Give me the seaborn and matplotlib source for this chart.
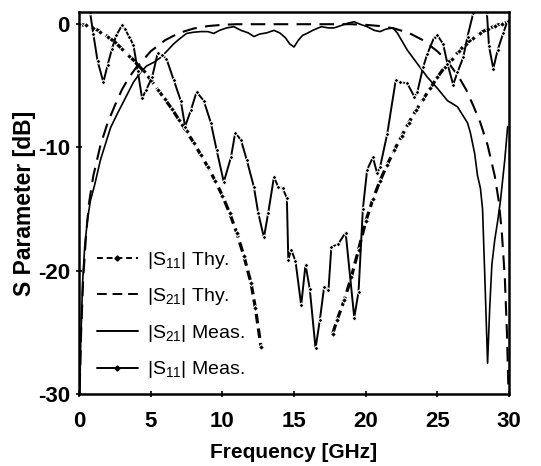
import matplotlib
matplotlib.use("Agg")
import matplotlib.pyplot as plt
import seaborn as sns
import pandas as pd
from matplotlib.lines import Line2D

# |S11| theory (two branches)
s11_thy_f_lo = [0, 0.5, 1, 1.5, 2, 2.5, 3, 3.5, 4, 4.5, 5, 5.5, 6, 6.5, 7, 7.5,
                8, 8.5, 9, 9.5, 10, 10.5, 11, 11.5, 12, 12.3, 12.7]
s11_thy_db_lo = [0, -0.1, -0.3, -0.6, -1.0, -1.45, -2.0, -2.55, -3.15, -3.8, -4.5,
                 -5.3, -6.1, -6.9, -7.8, -8.7, -9.6, -10.6, -11.6, -12.7, -13.9,
                 -15.3, -16.9, -18.8, -21.0, -23.0, -26.2]
s11_thy_f_hi = [17.7, 18.0, 18.5, 19.0, 19.5, 20.0, 20.5, 21.0, 21.5, 22.0, 22.5,
                23.0, 23.5, 24.0, 24.5, 25.0, 25.5, 26.0, 26.5, 27.0, 27.5, 28.0,
                28.5, 29.0, 29.5, 30.0]
s11_thy_db_hi = [-25.1, -24.0, -22.4, -20.5, -18.3, -16.0, -14.2, -12.7, -11.4,
                 -10.2, -9.1, -8.0, -7.0, -6.1, -5.2, -4.3, -3.5, -2.8, -2.2, -1.6,
                 -1.1, -0.7, -0.4, -0.15, 0.05, 0.2]

# |S21| theory
s21_thy_f = [0.05, 0.15, 0.3, 0.5, 0.7, 1.0, 1.5, 2.0, 2.5, 3.0, 3.5, 4.0, 4.4, 5.0,
             6.0, 7.0, 8.0, 9.0, 10.0, 11.0, 19.0, 20.0, 21.0, 22.0, 23.0, 24.0,
             25.0, 25.7, 26.5, 27.0, 27.5, 28.0, 28.5, 29.0, 29.3, 29.5, 29.7,
             29.85, 29.95]
s21_thy_db = [-29.5, -25, -20.5, -17, -14.5, -12.3, -9.8, -8.0, -6.6, -5.3, -4.3,
              -3.5, -3.0, -2.2, -1.3, -0.7, -0.35, -0.15, -0.05, 0, 0, -0.05, -0.15,
              -0.35, -0.7, -1.3, -2.2, -3.0, -4.3, -5.3, -6.6, -8.0, -9.8, -12.3,
              -14.5, -17, -20.5, -25, -29.5]

# |S21| measured
s21_meas_f = [0.05, 0.12, 0.25, 0.4, 0.6, 0.8, 1.1, 1.5, 2.2, 2.7, 3.1, 3.8, 4.3,
              4.7, 5.2, 5.7, 6.2, 6.6, 7.0, 7.5, 8.0, 8.5, 9.0, 9.4, 9.8, 10.3,
              10.8, 11.3, 11.8, 12.2, 12.6, 13.1, 13.6, 14.0, 14.4, 14.7, 15.0,
              15.3, 15.6, 15.9, 16.3, 16.9, 17.4, 17.8, 18.3, 18.8, 19.2, 19.6,
              20.1, 20.6, 21.0, 21.4, 21.9, 22.2, 22.9, 23.6, 24.3, 25.0, 25.7,
              26.4, 27.1, 27.3, 27.6, 27.8, 28.0, 28.15, 28.35, 28.5, 28.65, 28.8,
              29.0, 29.2, 29.4, 29.7, 29.9]
s21_meas_db = [-30, -26, -21, -18, -15.8, -14.3, -13.0, -11.0, -8.4, -7.2, -6.3,
               -4.7, -3.9, -3.4, -3.1, -2.7, -2.1, -1.6, -1.2, -0.75, -0.65, -0.6,
               -0.6, -0.75, -0.5, -0.3, -0.2, -0.5, -0.7, -1.0, -0.8, -0.7, -0.5,
               -0.7, -1.1, -1.6, -1.85, -1.3, -0.9, -0.75, -0.5, -0.2, -0.3, -0.3,
               -0.1, 0.1, 0.2, 0.0, -0.2, -0.5, -0.6, -0.4, -0.3, -0.7, -2.1, -3.2,
               -4.3, -5.2, -6.2, -6.7, -8.0, -8.8, -10.5, -12.3, -13.3, -15.0,
               -22.0, -27.5, -23.0, -19.5, -17.5, -16.0, -14.3, -11.0, -8.3]

# |S11| measured
s11_meas_f = [0.0, 0.4, 0.77, 1.0, 1.3, 1.7, 2.0, 2.3, 2.6, 3.0, 3.2, 3.5, 3.8, 4.1,
              4.4, 4.7, 5.1, 5.5, 5.8, 6.1, 6.6, 7.1, 7.4, 7.8, 8.2, 8.7, 9.2, 9.6,
              10.1, 10.6, 10.9, 11.3, 11.7, 12.2, 12.5, 12.9, 13.2, 13.6, 13.9,
              14.2, 14.5, 14.6, 14.8, 15.1, 15.5, 15.8, 16.1, 16.5, 16.8, 17.1,
              17.4, 17.6, 18.1, 18.6, 19.2, 19.5, 19.8, 20.1, 20.5, 20.8, 21.0,
              21.5, 22.1, 22.4, 22.9, 23.4, 23.6, 24.0, 24.3, 24.8, 25.0, 25.4,
              25.7, 26.1, 26.4, 26.8, 27.1, 27.5, 27.9, 28.3, 28.45, 28.6, 28.9,
              29.2, 29.6, 29.9]
s11_meas_db = [3.0, 2.5, 1.0, -0.8, -3.0, -4.7, -3.3, -2.0, -0.9, -0.1, -0.4, -1.0,
               -1.7, -3.8, -6.0, -5.3, -4.3, -2.3, -2.5, -2.8, -4.5, -6.2, -8.3,
               -7.0, -5.5, -6.2, -8.0, -10.2, -12.8, -10.8, -8.8, -9.4, -11.0,
               -13.2, -15.3, -17.3, -15.3, -12.4, -13.2, -13.3, -14.1, -19.1,
               -18.3, -19.2, -22.8, -19.5, -21.5, -26.3, -24.0, -21.3, -21.6,
               -18.1, -17.8, -16.9, -23.8, -21.7, -15.0, -11.8, -10.8, -12.1,
               -11.6, -8.9, -4.5, -4.7, -4.8, -5.9, -5.5, -3.5, -2.4, -1.0, -0.9,
               -1.6, -3.2, -4.9, -3.9, -2.7, -1.0, 0.9, 3.0, 3.0, 1.0, -1.8, -3.6,
               -2.1, -0.7, 0.3]

sns.set_theme(style="ticks")
plt.rcParams["font.family"] = ["Liberation Sans", "DejaVu Sans"]
plt.rcParams["mathtext.default"] = "regular"
for key in ["text.color", "axes.labelcolor", "xtick.color", "ytick.color",
            "axes.edgecolor"]:
    plt.rcParams[key] = "black"

fig = plt.figure(figsize=(5.41, 4.66), dpi=100)
ax = fig.add_axes([0.146, 0.1545, 0.795, 0.82])

k = "black"
s11_thy_style = dict(color=k, lw=2.3, marker="D", ms=3.0, linestyle=(0, (3, 1.6)),
                     estimator=None, sort=False)
sns.lineplot(x=s11_thy_f_lo, y=s11_thy_db_lo, ax=ax, **s11_thy_style)
sns.lineplot(x=s11_thy_f_hi, y=s11_thy_db_hi, ax=ax, **s11_thy_style)
sns.lineplot(x=s21_thy_f, y=s21_thy_db, ax=ax, color=k, lw=1.5,
             linestyle=(0, (7, 4)), estimator=None, sort=False)
sns.lineplot(x=s21_meas_f, y=s21_meas_db, ax=ax, color=k, lw=1.2,
             estimator=None, sort=False)
sns.lineplot(x=s11_meas_f, y=s11_meas_db, ax=ax, color=k, lw=1.4, marker="D",
             ms=2.6, estimator=None, sort=False)

ax.set_xlim(0, 30)
ax.set_ylim(-30, 1)
ax.set_xticks([0, 5, 10, 15, 20, 25, 30])
ax.set_yticks([0, -10, -20, -30])
ax.set_xticklabels(["0", "5", "10", "15", "20", "25", "30"])
ax.set_yticklabels(["0", "-10", "-20", "-30"])
ax.tick_params(axis="both", direction="inout", length=5, width=1.2, colors=k,
               labelsize=16)
ax.tick_params(axis="x", pad=10)
ax.tick_params(axis="y", pad=4)
for lab in ax.get_xticklabels() + ax.get_yticklabels():
    lab.set_fontweight("bold")
for sp in ax.spines.values():
    sp.set_visible(True)
    sp.set_linewidth(1.8)
    sp.set_color(k)

ax.set_xlabel("Frequency [GHz]", fontsize=15, fontweight="bold", labelpad=8)
ax.set_ylabel("S Parameter [dB]", fontsize=16.5, fontweight="bold", labelpad=1)

handles = [
    Line2D([], [], color=k, lw=1.4, linestyle=(0, (3, 2)), marker="D", ms=2.6),
    Line2D([], [], color=k, lw=1.4, linestyle=(0, (5, 3))),
    Line2D([], [], color=k, lw=1.4),
    Line2D([], [], color=k, lw=1.4, marker="D", ms=2.6),
]
labels = [r"$|S_{11}|$ Thy.", r"$|S_{21}|$ Thy.", r"$|S_{21}|$ Meas.",
          r"$|S_{11}|$ Meas."]
ax.legend(handles, labels, loc="lower left", bbox_to_anchor=(0.01, 0.0),
          frameon=False, fontsize=14, handlelength=2.1, handletextpad=0.5,
          labelspacing=0.8, numpoints=1, borderaxespad=0.3,
          labelcolor="black")

fig.savefig("out.png", dpi=100)
